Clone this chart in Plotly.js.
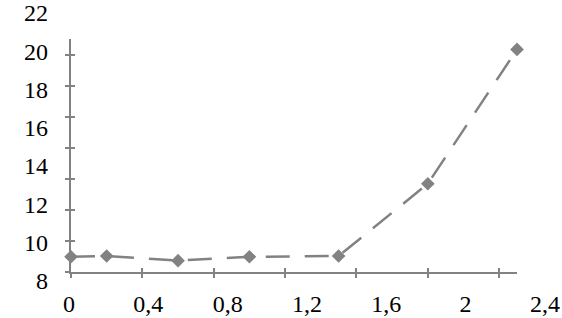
<!DOCTYPE html>
<html>
<head>
<meta charset="utf-8">
<script src="https://cdn.plot.ly/plotly-3.0.1.min.js"></script>
<style>html,body{margin:0;padding:0;background:#fff;}#chart{width:562px;height:318px;}</style>
</head>
<body>
<div id="chart"></div>
<script>
// Data
const xValues = [0, 0.2, 0.6, 1.0, 1.5, 2.0, 2.5];
const yValues = [9.0, 9.05, 8.75, 9.0, 9.05, 13.7, 22.35];
const xTickVals = [0, 0.4, 0.8, 1.2, 1.6, 2.0, 2.4];
const xTickText = ['0', '0,4', '0,8', '1,2', '1,6', '2', '2,4'];
const yTickVals = [8, 10, 12, 14, 16, 18, 20, 22];
const yTickText = ['8', '10', '12', '14', '16', '18', '20', '22'];

const W = 562, H = 318;
const gray = '#828282';
const labelFont = {family: 'Liberation Serif, Times New Roman, serif', size: 24, color: '#000'};

const trace = {
  x: xValues, y: yValues, type: 'scatter', mode: 'lines+markers',
  xaxis: 'x', yaxis: 'y',
  line: {color: gray, width: 2.5, dash: '24px,15px'},
  marker: {symbol: 'diamond', size: 10.5, color: gray},
  hoverinfo: 'skip', showlegend: false, cliponaxis: false
};
// empty helper traces so that the helper axes are drawn
const helper = (xa, ya) => ({x: [], y: [], type: 'scatter', mode: 'markers', xaxis: xa, yaxis: ya, hoverinfo: 'skip', showlegend: false});

const plotLeft = 71, plotRight = 517, plotTop = 39.3, plotBottom = 272.3;
const tickAxis = {showgrid: false, zeroline: false, showticklabels: false, fixedrange: true};

// label-axis scales (labels in the reference are spread wider than the tick marks)
const xLab0 = 69, xLabStep = 198.3;      // px position of 0, px per unit
const yLab8 = 280.7, yLabStep = 19.12;   // px position of 8, px per unit

const layout = {
  width: W, height: H,
  margin: {l: 0, r: 0, t: 0, b: 0},
  paper_bgcolor: '#fff', plot_bgcolor: 'rgba(0,0,0,0)',
  showlegend: false,
  xaxis: Object.assign({}, tickAxis, {
    domain: [plotLeft / W, plotRight / W], range: [0, 2.5], anchor: 'y',
    showline: true, linecolor: gray, linewidth: 2,
    tickmode: 'array', tickvals: xTickVals, ticks: 'outside', ticklen: 4, tickwidth: 2, tickcolor: gray
  }),
  xaxis3: Object.assign({}, tickAxis, {
    overlaying: 'x', range: [0, 2.5], anchor: 'y3',
    tickmode: 'array', tickvals: xTickVals, ticks: 'inside', ticklen: 4, tickwidth: 2, tickcolor: gray
  }),
  yaxis: Object.assign({}, tickAxis, {
    domain: [1 - plotBottom / H, 1 - plotTop / H], range: [8, 23], anchor: 'x',
    showline: true, linecolor: gray, linewidth: 2,
    tickmode: 'array', tickvals: yTickVals, ticks: 'outside', ticklen: 4, tickwidth: 2, tickcolor: gray
  }),
  yaxis3: Object.assign({}, tickAxis, {
    overlaying: 'y', range: [8, 23], anchor: 'x3',
    tickmode: 'array', tickvals: yTickVals, ticks: 'inside', ticklen: 4, tickwidth: 2, tickcolor: gray
  }),
  xaxis2: {
    domain: [0, 1], range: [-xLab0 / xLabStep, (W - xLab0) / xLabStep], anchor: 'y',
    showgrid: false, zeroline: false, showline: false, ticks: '', fixedrange: true,
    tickmode: 'array', tickvals: xTickVals, ticktext: xTickText,
    tickfont: labelFont, ticklabelstandoff: 15, ticklabeloverflow: 'allow'
  },
  yaxis2: {
    domain: [0, 1], range: [8 - (H - yLab8) / yLabStep, 8 + yLab8 / yLabStep], anchor: 'x',
    showgrid: false, zeroline: false, showline: false, ticks: '', fixedrange: true,
    tickmode: 'array', tickvals: yTickVals, ticktext: yTickText,
    tickfont: labelFont, ticklabelstandoff: 22, ticklabeloverflow: 'allow'
  }
};

Plotly.newPlot('chart', [trace, helper('x3', 'y3'), helper('x2', 'y'), helper('x', 'y2')], layout, {displayModeBar: false, staticPlot: true});
</script>
</body>
</html>
